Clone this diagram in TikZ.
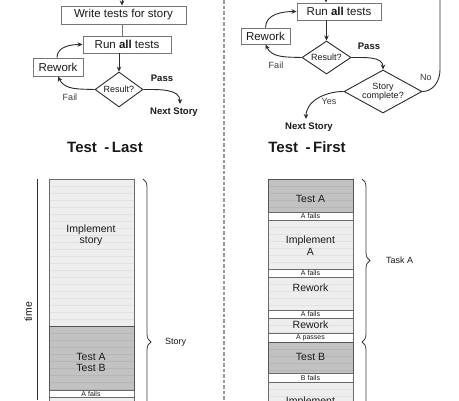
\documentclass[tikz,border=0pt]{standalone}
\usepackage{fontspec}
\setmainfont{Liberation Sans}
\usetikzlibrary{shapes.geometric,arrows.meta,decorations.pathreplacing,calc}
\definecolor{linecol}{HTML}{2B2B2B}
\definecolor{boxcol}{HTML}{767676}
\definecolor{txtcol}{HTML}{1A1A1A}
\definecolor{lblcol}{HTML}{3C3C3C}
\definecolor{lightfill}{HTML}{EEEEEE}
\definecolor{lightstripe}{HTML}{E2E2E2}
\definecolor{darkfill}{HTML}{C2C2C2}
\definecolor{darkstripe}{HTML}{B6B6B6}
\definecolor{colborder}{HTML}{6A6A6A}
\definecolor{divcol}{HTML}{9A9A9A}
\newcommand{\fs}[1]{\fontsize{#1}{#1}\selectfont}
\tikzset{
  flowbox/.style={draw=boxcol, fill=white, line width=0.9pt, inner sep=0pt, text=txtcol, font=\fs{11.5}},
  decide/.style={diamond, draw=linecol, fill=white, line width=0.9pt, inner sep=0pt, text=txtcol, font=\fs{9}, align=center},
  conn/.style={draw=linecol, line width=0.9pt},
  arr/.style={conn, -{Stealth[length=5pt,width=4.5pt]}},
  lbl/.style={text=lblcol, font=\fs{9}, inner sep=0pt},
  blbl/.style={text=txtcol, font=\bfseries\fs{9.5}, inner sep=0pt},
  title/.style={text=txtcol, font=\bfseries\fs{15}, inner sep=0pt},
  stripes/.style={path picture={\foreach \k in {1,...,40}{\draw[#1, line width=0.4pt] ($(path picture bounding box.north west)+(0,\k*7)$) -- ++(200,0);}}},
  lightbox/.style={draw=colborder, fill=lightfill, line width=0.7pt, stripes=lightstripe},
  darkbox/.style={draw=colborder!80!black, fill=darkfill, line width=0.9pt, stripes=darkstripe},
  strip/.style={draw=colborder, fill=white, line width=0.7pt},
  boxtxt/.style={text=txtcol, font=\fs{10.5}, align=center, inner sep=0pt},
  smalltxt/.style={text=txtcol, font=\fs{7}, inner sep=0pt},
  brlbl/.style={text=txtcol, font=\fs{9}, inner sep=0pt, anchor=west},
  bracestyle/.style={draw=lblcol, line width=0.8pt, decorate, decoration={brace, amplitude=8pt}}
}
\begin{document}
\begin{tikzpicture}[x=1pt, y=-1pt]
\clip (0,0) rectangle (459,400);
\fill[white] (0,0) rectangle (459,400);

% divider
\coordinate (dtop) at (224,0);
\coordinate (dbot) at (224,400);
\draw[divcol, line width=1.3pt, dash pattern=on 3.5pt off 2pt] (dtop) -- (dbot);

% ---------------- Left flowchart: Test-Last
\coordinate (in1) at (122,0);
\node[flowbox, minimum width=125pt, minimum height=18pt] (wt) at (123.5,15) {Write tests for story};
\node[flowbox, minimum width=88pt, minimum height=17pt] (run1) at (127,44.5) {Run \textbf{all} tests};
\node[flowbox, minimum width=50pt, minimum height=18pt] (rw1) at (58,67) {Rework};
\node[decide, minimum width=48pt, minimum height=35pt, aspect=1.37] (res1) at (119,89.5) {Result?};
\coordinate (nx1) at (180,104);
\node[blbl] (pass1) at (162,78) {Pass};
\node[lbl] (fail1) at (70,97) {Fail};
\node[blbl] (next1) at (174,112) {Next Story};
\node[title] (tl) at (105,147) {Test\enspace -\,Last};

\draw[arr] (in1) -- (in1 |- wt.north);
\draw[conn, draw=boxcol] (in1 |- wt.south) -- (in1 |- run1.north);
\draw[arr] (res1.north |- run1.south) -- (res1.north);
\draw[arr] ([xshift=-1pt]rw1.north) to[out=90, in=180] (run1.west);
\draw[arr] (res1.west) to[out=178, in=-65] (rw1.south);
\draw[arr] (res1.east) to[out=0, in=90] (nx1);

% ---------------- Right flowchart: Test-First
\coordinate (in2) at (326,0);
\node[flowbox, minimum width=84pt, minimum height=17pt] (run2) at (339,11.5) {Run \textbf{all} tests};
\node[flowbox, minimum width=49pt, minimum height=16pt] (rw2) at (265.5,36) {Rework};
\node[decide, minimum width=49pt, minimum height=33pt, aspect=1.48] (res2) at (326.5,57.5) {Result?};
\node[decide, minimum width=78pt, minimum height=43pt, aspect=1.8, inner sep=-3pt] (sc) at (383,91.5) {Story\\[0pt]complete?};
\coordinate (nx2) at (306,119);
\coordinate (lp1) at (440,70);
\coordinate (lp2) at (440,0);
\node[blbl] (pass2) at (369,46) {Pass};
\node[lbl] (fail2) at (276,65) {Fail};
\node[lbl] (no) at (426,77) {No};
\node[lbl] (yes) at (329,101) {Yes};
\node[blbl] (next2) at (309,127) {Next Story};
\node[title] (tf) at (307,147) {Test\enspace -\,First};

\draw[arr] (in2) -- (in2 |- run2.north);
\draw[arr] (res2.north |- run2.south) -- (res2.north);
\draw[arr] (rw2.north) to[out=90, in=180] (run2.west);
\draw[arr] (res2.west) to[out=178, in=-65] (rw2.south);
\draw[arr] (res2.east) to[out=0, in=90] (sc.north);
\draw[conn] (sc.east) to[out=0, in=-90] (lp1) -- (lp2);
\draw[arr] (sc.west) to[out=180, in=90] (nx2);

% ---------------- Bottom left column
\coordinate (ax1) at (37,179);
\coordinate (ax2) at (37,400);
\draw[linecol, line width=0.9pt] (ax1) -- (ax2);
\node[text=txtcol, font=\fs{10.5}, rotate=90, inner sep=0pt] (time) at (28,312) {time};

\path[lightbox] (49,179) rectangle (134,326);
\path[darkbox] (49,326) rectangle (134,390);
\path[strip] (49,390) rectangle (134,397);
\path[lightbox] (49,397) rectangle (134,430);
\node[boxtxt] (impl) at (91,235.5) {Implement\\[1pt]story};
\node[boxtxt] (tab) at (91,362.5) {Test A\\[1pt]Test B};
\node[smalltxt] (af0) at (91,393.8) {A fails};

\coordinate (b1s) at (143,179);
\coordinate (b1e) at (143,505);
\draw[bracestyle] (b1s) -- (b1e);
\node[brlbl] (story) at (165,342) {Story};

% ---------------- Bottom right column
\path[darkbox] (268,179) rectangle (353,212);
\path[strip] (268,212) rectangle (353,220);
\path[lightbox] (268,220) rectangle (353,269);
\path[strip] (268,269) rectangle (353,277);
\path[lightbox] (268,277) rectangle (353,310);
\path[strip] (268,310) rectangle (353,318);
\path[lightbox] (268,318) rectangle (353,333);
\path[strip] (268,333) rectangle (353,342);
\path[darkbox] (268,342) rectangle (353,373);
\path[strip] (268,373) rectangle (353,382);
\path[lightbox] (268,382) rectangle (353,430);

\node[boxtxt] (ta) at (310.5,199) {Test A};
\node[smalltxt] (af1) at (310.5,216.3) {A fails};
\node[boxtxt] (ia) at (310.5,245.5) {Implement\\[1pt]A};
\node[smalltxt] (af2) at (310.5,273.3) {A fails};
\node[boxtxt] (rwa) at (310.5,287.5) {Rework};
\node[smalltxt] (af3) at (310.5,314.3) {A fails};
\node[boxtxt] (rwb) at (310.5,325) {Rework};
\node[smalltxt] (ap) at (310.5,337.8) {A passes};
\node[boxtxt] (tb) at (310.5,357) {Test B};
\node[smalltxt] (bf) at (310.5,377.8) {B fails};
\node[boxtxt] (ib) at (310.5,402) {Implement};

\coordinate (b2s) at (362,179);
\coordinate (b2e) at (362,342);
\coordinate (b3s) at (362,342);
\coordinate (b3e) at (362,480);
\draw[bracestyle] (b2s) -- (b2e);
\draw[bracestyle] (b3s) -- (b3e);
\node[brlbl] (taska) at (386,260.5) {Task A};
\end{tikzpicture}
\end{document}
